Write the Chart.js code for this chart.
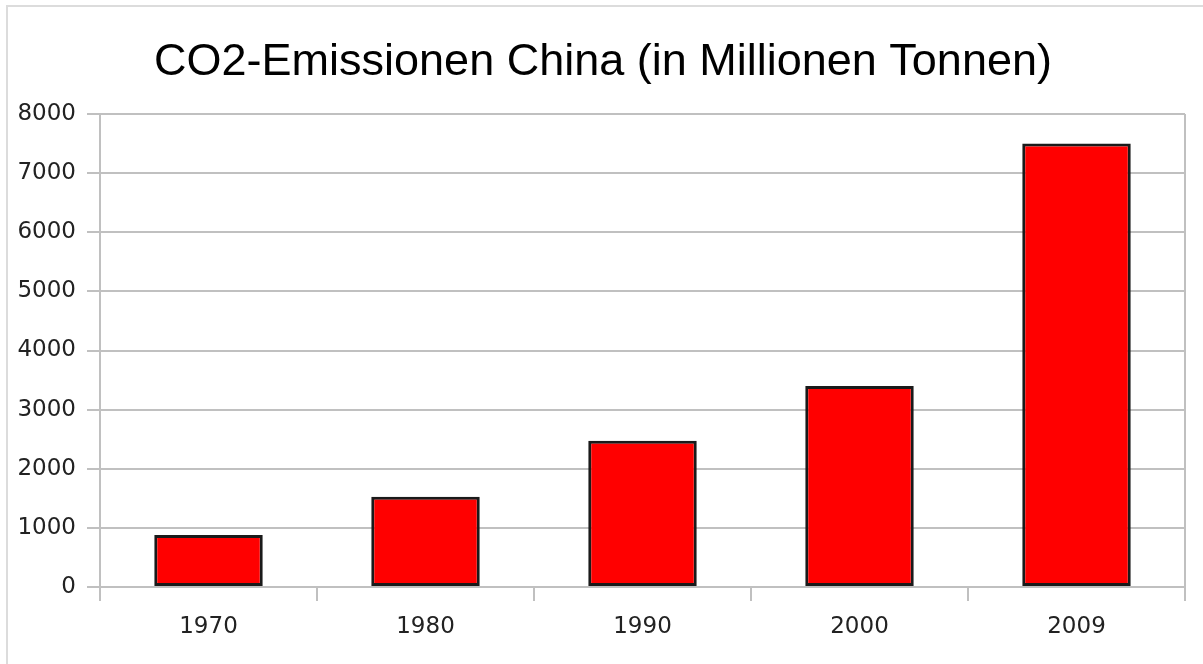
<!DOCTYPE html>
<html>
<head>
<meta charset="utf-8">
<script src="https://cdn.jsdelivr.net/npm/chart.js@4"></script>
<style>
    html, body { margin: 0; padding: 0; background: #fff; }
    #frame {
        position: absolute; left: 0; top: 0; width: 1203px; height: 664px;
        overflow: hidden;
    }
    #edgeTop { position: absolute; left: 7px; top: 5px; width: 1196px; height: 2px; background: #dcdcdc; }
    #edgeLeft { position: absolute; left: 6px; top: 5px; width: 2px; height: 659px; background: #dcdcdc; }
    #chartBox { position: absolute; left: 0; top: 0; width: 1203px; height: 664px; }
</style>
</head>
<body>
<div id="frame">
    <div id="edgeTop"></div>
    <div id="edgeLeft"></div>
    <div id="chartBox"><canvas id="co2Chart"></canvas></div>
</div>
<script>
// data
const years = ['1970', '1980', '1990', '2000', '2009'];
const emissions = [880, 1525, 2475, 3400, 7500];
const yTicks = [0, 1000, 2000, 3000, 4000, 5000, 6000, 7000, 8000];

const gridGrey = '#c0c0c0';
const tickFont = { family: 'DejaVu Sans', size: 23 };

const ctx = document.getElementById('co2Chart');
new Chart(ctx.getContext('2d'), {
    type: 'bar',
    data: {
        labels: years,
        datasets: [{
            label: 'CO2-Emissionen',
            data: emissions,
            backgroundColor: '#ff0000',
            borderColor: '#1a1a1a',
            borderWidth: 3,
            borderSkipped: false,
            categoryPercentage: 0.5,
            barPercentage: 1.0
        }]
    },
    options: {
        responsive: true,
        maintainAspectRatio: false,
        animation: false,
        layout: {
            padding: { left: 0, right: 18, top: 0, bottom: 0 }
        },
        plugins: {
            legend: { display: false },
            tooltip: { enabled: false },
            title: {
                display: true,
                text: 'CO2-Emissionen China (in Millionen Tonnen)',
                color: '#000000',
                font: { family: 'Liberation Sans', size: 45, weight: 'normal', lineHeight: 1.2 },
                padding: { top: 36, bottom: 24 }
            }
        },
        scales: {
            x: {
                offset: true,
                grid: {
                    offset: true,
                    display: true,
                    drawOnChartArea: false,
                    drawTicks: true,
                    tickLength: 14,
                    color: gridGrey,
                    lineWidth: 2
                },
                border: { display: true, color: gridGrey, width: 2 },
                ticks: {
                    color: '#222222',
                    font: tickFont,
                    padding: 12,
                    maxRotation: 0
                },
                afterFit: (scale) => { scale.height = 77; }
            },
            y: {
                min: 0,
                max: 8000,
                afterBuildTicks: (scale) => {
                    scale.ticks = yTicks.map(v => ({ value: v }));
                },
                grid: {
                    color: gridGrey,
                    lineWidth: 2,
                    drawTicks: true,
                    tickLength: 13
                },
                border: { display: true, color: gridGrey, width: 2 },
                ticks: {
                    color: '#222222',
                    font: tickFont,
                    padding: 11,
                    callback: (value) => String(value)
                },
                afterFit: (scale) => { scale.width = 100; }
            }
        }
    },
    plugins: [{
        // nudge the title so it sits centred like in the reference
        id: 'titleShift',
        afterLayout(chart) {
            if (chart.titleBlock) chart.titleBlock.left += 21;
        }
    }, {
        // plot area frame on the right side, like the reference
        id: 'rightEdge',
        afterDraw(chart) {
            const a = chart.chartArea;
            const c = chart.ctx;
            c.save();
            c.strokeStyle = gridGrey;
            c.lineWidth = 2;
            c.beginPath();
            c.moveTo(a.right, a.top);
            c.lineTo(a.right, a.bottom + 14);
            c.stroke();
            c.restore();
        }
    }]
});
</script>
</body>
</html>
